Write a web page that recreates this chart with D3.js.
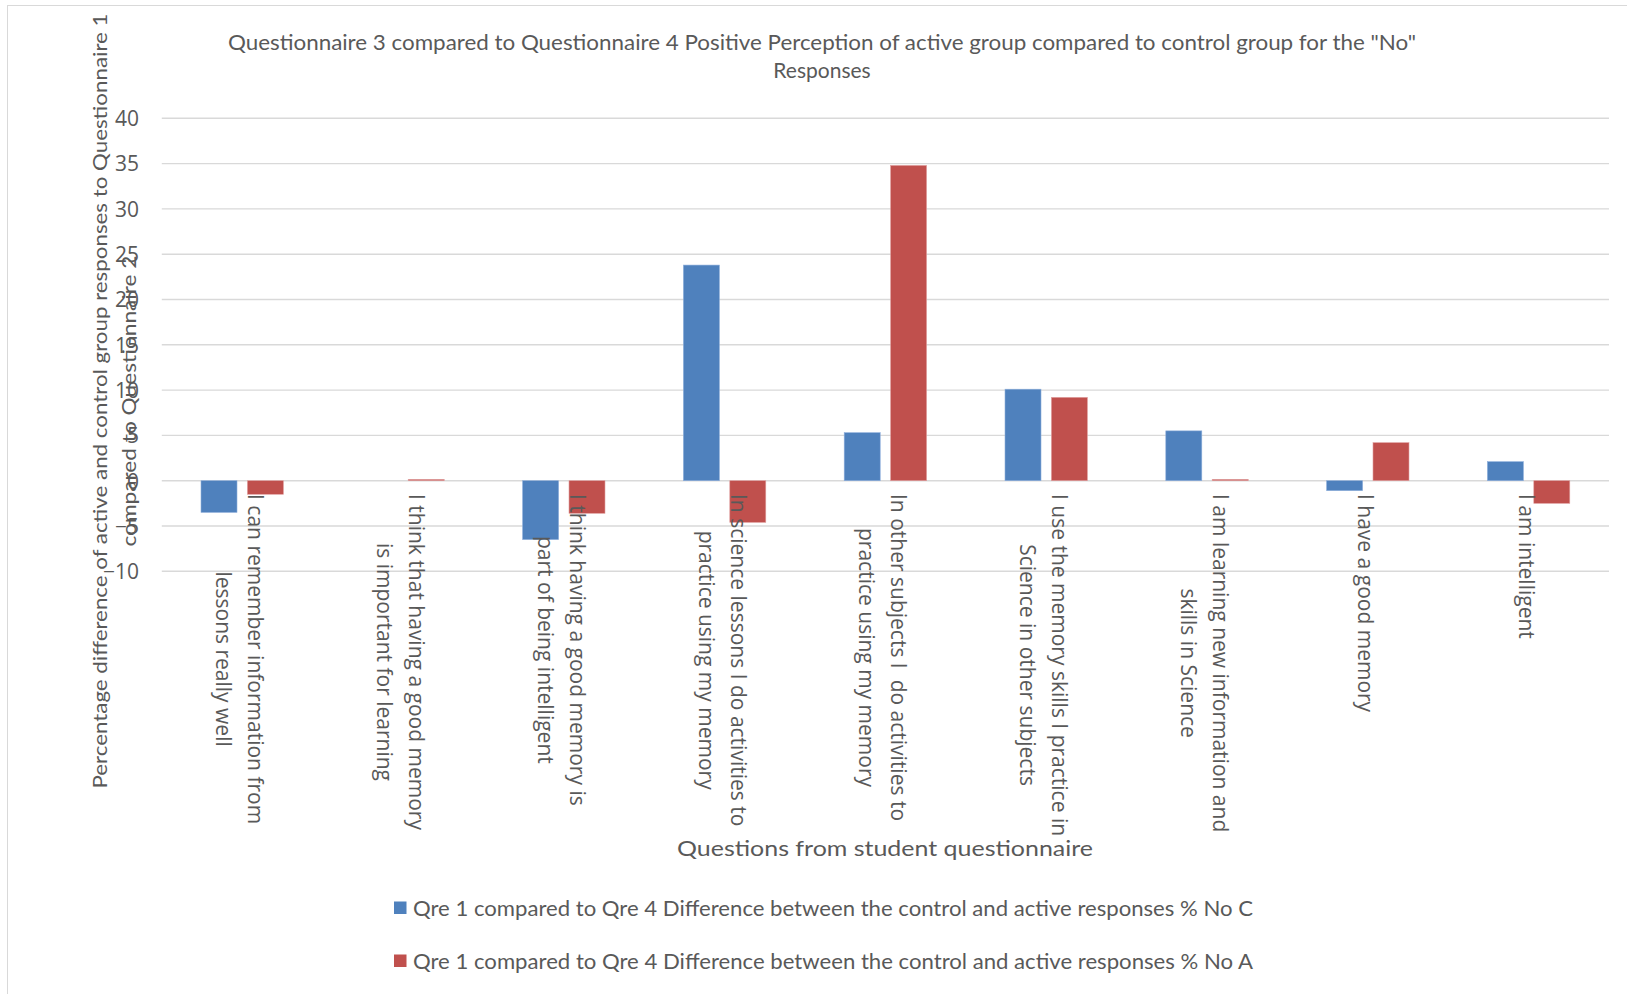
<!DOCTYPE html>
<html>
<head>
<meta charset="utf-8">
<script src="https://cdn.jsdelivr.net/npm/d3@7"></script>
<style>
  html, body { margin: 0; padding: 0; background: #fff; }
  svg { display: block; }
</style>
</head>
<body>
<svg id="chart" width="1627" height="994"></svg>
<script>
// ---- Data ----
const categories = [
  "I can remember information from|lessons really well",
  "I think that having a good memory|is important for learning",
  "I think having a good memory is|part of being intelligent",
  "In science lessons I do activities to|practice using my memory",
  "In other subjects I  do activities to|practice using my memory",
  "I use the memory skills I practice in|Science in other subjects",
  "I am learning new information and|skills in Science",
  "I have a good memory",
  "I am intelligent"
];
const seriesNames = [
  "Qre 1 compared to Qre 4 Difference between the control and active responses % No C",
  "Qre 1 compared to Qre 4 Difference between the control and active responses % No A"
];
const valuesC = [-3.5, 0, -6.5, 23.8, 5.3, 10.1, 5.5, -1.1, 2.1];
const valuesA = [-1.5, 0.15, -3.6, -4.6, 34.8, 9.2, 0.15, 4.2, -2.5];
const yTicks = [-10, -5, 0, 5, 10, 15, 20, 25, 30, 35, 40];
const seriesColors = ["#4F81BD", "#C0504D"];
const titleLines = ["Questionnaire 3 compared to Questionnaire 4 Positive Perception of active group compared to control group for the \"No\"", "Responses"];
const yTitleLines = ["Percentage difference of active and control group responses to Questionnaire 1", "compared to Questionnaire 2"];
const xTitle = "Questions from student questionnaire";

// ---- Layout ----
const svg = d3.select("#chart");
const textColor = "#595959";
const gridColor = "#d9d9d9";
const plot = { left: 161.8, right: 1609, top: 118.3, bottom: 571.3 };

svg.append("rect")
  .attr("x", 7.5).attr("y", 5.5).attr("width", 1640).attr("height", 1000)
  .attr("fill", "none").attr("stroke", gridColor).attr("stroke-width", 1);

const x0 = d3.scaleBand().domain(categories).range([plot.left, plot.right]).paddingInner(0).paddingOuter(0);
const bw = x0.bandwidth();
const x1 = d3.scaleBand().domain([0, 1])
  .range([bw / 2 - 41.2, bw / 2 + 41.2]).paddingInner(0.224).paddingOuter(0);
const y = d3.scaleLinear().domain([-10, 40]).range([plot.bottom, plot.top]);

// gridlines
svg.append("g").selectAll("line").data(yTicks).join("line")
  .attr("x1", plot.left).attr("x2", plot.right)
  .attr("y1", d => y(d)).attr("y2", d => y(d))
  .attr("stroke", gridColor).attr("stroke-width", 1.4);

// y axis labels via d3 axis
const yAxis = d3.axisLeft(y).tickValues(yTicks).tickSize(0).tickPadding(0).tickFormat(d3.format("d"));
const gy = svg.append("g").attr("transform", `translate(139,0)`).call(yAxis);
gy.select(".domain").remove();
gy.selectAll("text")
  .attr("fill", textColor)
  .style("font-family", "'Open Sans', sans-serif")
  .style("font-size", "21px")
  .attr("dy", "0.35em");

// bars
const seriesData = [valuesC, valuesA];
const groups = svg.append("g").selectAll("g").data(categories).join("g")
  .attr("transform", d => `translate(${x0(d)},0)`);
groups.selectAll("rect").data((d, i) => seriesData.map((s, k) => ({ k, v: s[i] }))).join("rect")
  .attr("x", d => x1(d.k))
  .attr("width", x1.bandwidth())
  .attr("y", d => d.v >= 0 ? y(d.v) : y(0))
  .attr("height", d => Math.abs(y(d.v) - y(0)))
  .attr("fill", d => seriesColors[d.k])
  .attr("stroke", d => d.k === 0 ? "#8eaedb" : "#e0a0a0")
  .attr("stroke-width", 0.6);

// category labels (rotated 90deg clockwise), lines centred on the longest line
const labelTop = 494;
const lineGap = 32;
categories.forEach(c => {
  const lines = c.split("|");
  const cx = x0(c) + bw / 2;
  const els = lines.map((ln, i) => {
    return svg.append("text")
      .attr("dominant-baseline", "central")
      .attr("text-anchor", "middle")
      .attr("fill", textColor)
      .style("font-family", "'Open Sans', sans-serif")
      .style("font-size", "21px")
      .style("white-space", "pre")
      .attr("xml:space", "preserve")
      .text(ln);
  });
  const maxLen = d3.max(els, e => e.node().getComputedTextLength());
  els.forEach((e, i) => {
    const off = ((lines.length - 1) / 2 - i) * lineGap - 2;
    e.attr("transform", `translate(${cx + off},${labelTop + maxLen / 2}) rotate(90)`);
  });
});

// title
const titleLens = [1188, null];
titleLines.forEach((t, i) => {
  const el = svg.append("text")
    .attr("x", 822).attr("y", 41 + i * 28)
    .attr("text-anchor", "middle").attr("dominant-baseline", "central")
    .attr("fill", textColor)
    .style("font-family", "Lato, sans-serif").style("font-size", "21px")
    .text(t);
  if (titleLens[i]) el.attr("textLength", titleLens[i]).attr("lengthAdjust", "spacingAndGlyphs");
});

// y title
const yTitleX = [98.5, 128];
const yTitleLens = [775, 291];
yTitleLines.forEach((t, i) => {
  svg.append("text")
    .attr("transform", `translate(${yTitleX[i]},401) rotate(-90)`)
    .attr("text-anchor", "middle").attr("dominant-baseline", "central")
    .attr("fill", textColor)
    .style("font-family", "Lato, sans-serif").style("font-size", "20px")
    .attr("textLength", yTitleLens[i]).attr("lengthAdjust", "spacingAndGlyphs")
    .text(t);
});

// x title
svg.append("text")
  .attr("x", 885).attr("y", 847)
  .attr("text-anchor", "middle").attr("dominant-baseline", "central")
  .attr("fill", textColor)
  .style("font-family", "Lato, sans-serif").style("font-size", "22px")
  .attr("textLength", 416).attr("lengthAdjust", "spacingAndGlyphs")
  .text(xTitle);

// legend
const legendY = [907, 960];
seriesNames.forEach((n, i) => {
  svg.append("rect")
    .attr("x", 394).attr("y", legendY[i] - 5.5).attr("width", 12.5).attr("height", 12.5)
    .attr("fill", seriesColors[i]);
  svg.append("text")
    .attr("x", 413).attr("y", legendY[i])
    .attr("dominant-baseline", "central")
    .attr("fill", textColor)
    .style("font-family", "Lato, sans-serif").style("font-size", "21px")
    .attr("textLength", 840).attr("lengthAdjust", "spacingAndGlyphs")
    .text(n);
});
</script>
</body>
</html>
